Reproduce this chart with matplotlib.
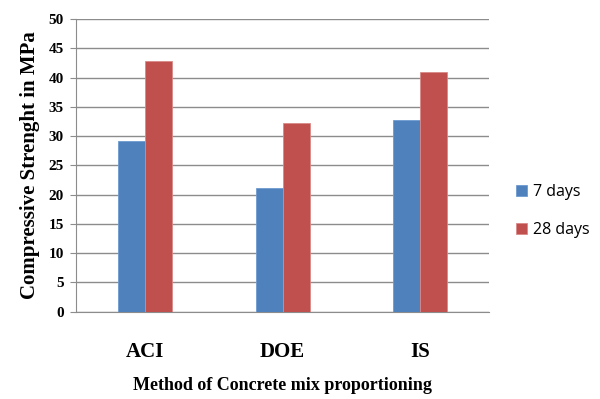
import matplotlib.pyplot as plt
import numpy as np

# Compressive strength by mix design method
methods = ["ACI", "DOE", "IS"]
days_7 = [29.2, 21.1, 32.7]
days_28 = [42.9, 32.2, 40.9]

fig = plt.figure(figsize=(6, 3.99), dpi=100)
ax = fig.add_axes([0.127, 0.219, 0.688, 0.733])

x = np.arange(len(methods))
w = 0.196
ax.bar(x - w / 2, days_7, w, color='#4F81BD', edgecolor='#6F9AD0', linewidth=0.6, label='7 days', zorder=3)
ax.bar(x + w / 2, days_28, w, color='#C0504D', edgecolor='#D98A88', linewidth=0.6, label='28 days', zorder=3)

ax.set_xlim(-0.5, 2.5)
ax.set_ylim(0, 50)
ax.set_yticks(np.arange(0, 51, 5))
ax.yaxis.grid(True, color='#8c8c8c', linewidth=1.0, zorder=0)
ax.set_axisbelow(True)

for s in ['top', 'right']:
    ax.spines[s].set_visible(False)
ax.spines['left'].set_color('#8c8c8c')
ax.spines['bottom'].set_color('#8c8c8c')

ax.set_xticks(x)
ax.set_xticklabels(methods, fontfamily='Liberation Serif', fontweight='bold', fontsize=15)
ax.tick_params(axis='x', length=0, pad=22)
ax.tick_params(axis='y', length=4, color='#8c8c8c', pad=5)
for lbl in ax.get_yticklabels():
    lbl.set_fontfamily('Liberation Serif')
    lbl.set_fontweight('bold')
    lbl.set_fontsize(11)

ax.set_ylabel('Compressive Strenght in MPa', fontfamily='Liberation Serif',
              fontweight='bold', fontsize=15, labelpad=6)
ax.set_xlabel('Method of Concrete mix proportioning', fontfamily='Liberation Serif',
              fontweight='bold', fontsize=13, labelpad=11)

leg = ax.legend(loc='center left', bbox_to_anchor=(1.03, 0.344), frameon=False,
                prop={'family': 'Open Sans', 'size': 11.5}, handlelength=0.7,
                handleheight=0.7, handletextpad=0.4, labelspacing=1.35)

fig.savefig('out.png', dpi=100)
